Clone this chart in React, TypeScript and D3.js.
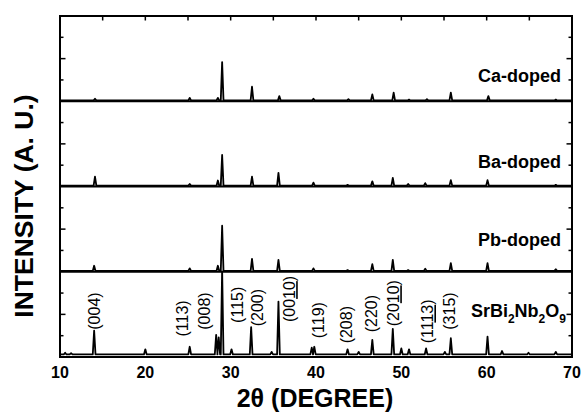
import React, { useEffect, useRef } from 'react';
import * as d3 from 'd3';

// sample names, top panel first
const samples = ['Ca-doped', 'Ba-doped', 'Pb-doped', 'SrBi2Nb2O9'];

// peaks as [2θ, intensity], intensity in % of a panel's height above its baseline
const caPeaks = [[14.1, 2], [25.2, 3], [28.5, 3], [29.0, 45], [32.5, 16], [35.7, 5], [39.7, 2], [43.8, 1.5], [46.6, 7], [49.1, 9], [50.9, 1], [53.0, 1.5], [55.8, 9], [60.2, 5], [68.1, 1]];
const baPeaks = [[14.1, 10.5], [25.2, 2], [28.5, 6], [29.0, 36], [32.5, 10.5], [35.6, 15], [39.7, 3.5], [43.7, 1], [46.6, 5], [49.0, 9], [50.8, 2], [52.8, 3], [55.8, 6.5], [60.1, 6.5], [68.1, 1]];
const pbPeaks = [[14.0, 6], [25.2, 3], [28.5, 6], [29.0, 53], [32.5, 14], [35.6, 13], [39.7, 3], [43.7, 1], [46.6, 8], [49.0, 13], [50.8, 1], [52.8, 2.5], [55.8, 9], [60.1, 9], [68.1, 2]];
const sbnPeaks = [[10.6, 2], [11.3, 1.5], [14.0, 28], [20.0, 6], [25.2, 9], [28.3, 23], [28.6, 20], [29.0, 100], [30.1, 6], [32.4, 32], [34.8, 3], [35.6, 62], [39.5, 8], [39.8, 9], [43.7, 6], [45.0, 3], [46.6, 17], [49.0, 30], [50.0, 7], [50.9, 6], [52.9, 7], [55.1, 3], [55.8, 19], [60.1, 21], [61.8, 4], [64.9, 2], [68.1, 3]];
const seriesPeaks = [caPeaks, baPeaks, pbPeaks, sbnPeaks];
const baselines = [1, 1, 1, 3];

// Miller index labels: [text, 2θ, intensity of the text start]; _xx_ marks an underlined part
const hklLabels: [string, number, number][] = [
  ['(004)', 14.0, 32], ['(113)', 24.4, 24], ['(008)', 26.9, 32], ['(115)', 30.8, 40],
  ['(200)', 33.1, 36], ['(00_10_)', 36.9, 41], ['(119)', 40.3, 22], ['(208)', 43.6, 16],
  ['(220)', 46.5, 29], ['(20_10_)', 49.1, 36], ['(11_13_)', 53.1, 16], ['(315)', 55.6, 32],
];

const xTicks = [10, 20, 30, 40, 50, 60, 70];
const xMinorTicks = [15, 20, 25, 30, 35, 40, 45, 50, 55, 60, 65];

const W = 581, H = 414;
const m = { left: 60, right: 9, top: 16, bottom: 57 };
const font = "'Liberation Sans', Arial, Helvetica, sans-serif";
const halfWidth = 0.16;

export default function App() {
  const ref = useRef<SVGSVGElement>(null);

  useEffect(() => {
    const svg = d3.select(ref.current);
    svg.selectAll('*').remove();

    const x0 = m.left, x1 = W - m.right, y0 = m.top, y1 = H - m.bottom;
    const x = d3.scaleLinear().domain([10, 70]).range([x0, x1]);
    const panelH = (y1 - y0) / samples.length;

    const clip = svg.append('defs');

    samples.forEach((name, i) => {
      const bottom = y0 + panelH * (i + 1);
      const top = bottom - panelH;
      const y = d3.scaleLinear().domain([0, 100]).range([bottom, top]);
      const base = baselines[i];

      clip.append('clipPath').attr('id', `clip${i}`)
        .append('rect').attr('x', x0).attr('y', top).attr('width', x1 - x0).attr('height', panelH);

      const pts: [number, number][] = [[10, base]];
      seriesPeaks[i].forEach(([p, h]) => {
        pts.push([p - halfWidth, base], [p, base + h], [p + halfWidth, base]);
      });
      pts.push([70, base]);

      svg.append('path')
        .attr('clip-path', `url(#clip${i})`)
        .attr('d', d3.line<[number, number]>().x(d => x(d[0])).y(d => y(d[1]))(pts))
        .attr('fill', 'none')
        .attr('stroke', '#000')
        .attr('stroke-width', 1.8)
        .attr('stroke-linejoin', 'round');

      // separator between panels
      if (i < samples.length - 1) {
        svg.append('line').attr('x1', x0).attr('x2', x1).attr('y1', bottom).attr('y2', bottom)
          .attr('stroke', '#000').attr('stroke-width', 2.2);
      }

      // y ticks, left and right, inward
      [0.25, 0.5, 0.75].forEach(f => {
        const ty = bottom - panelH * f;
        const len = f === 0.5 ? 5.5 : 3.5;
        svg.append('line').attr('x1', x0).attr('x2', x0 + len).attr('y1', ty).attr('y2', ty)
          .attr('stroke', '#000').attr('stroke-width', 1.5);
        svg.append('line').attr('x1', x1).attr('x2', x1 - len).attr('y1', ty).attr('y2', ty)
          .attr('stroke', '#000').attr('stroke-width', 1.5);
      });

      // sample label
      const lab = svg.append('text')
        .attr('x', 561)
        .attr('y', bottom - [19, 19, 26, 40][i])
        .attr('text-anchor', 'end')
        .style('font-family', font)
        .style('font-weight', 'bold')
        .style('font-size', '18px');
      if (name === 'SrBi2Nb2O9') {
        lab.attr('x', 566);
        [['SrBi', 0], ['2', 1], ['Nb', 0], ['2', 1], ['O', 0], ['9', 1]].forEach(([t, sub], k) => {
          lab.append('tspan').text(t as string)
            .attr('dy', sub ? 6 : (k === 0 ? 0 : -6))
            .style('font-size', sub ? '12px' : '18px');
        });
      } else {
        lab.text(name);
      }

      if (i === samples.length - 1) {
        hklLabels.forEach(([txt, p, v]) => {
          const t = svg.append('text')
            .attr('transform', `translate(${x(p)},${y(v)}) rotate(-90)`)
            .attr('dy', '0.35em')
            .style('font-family', font)
            .style('font-size', '16px');
          txt.split('_').forEach((part, k) => {
            if (!part) return;
            t.append('tspan').text(part).style('text-decoration', k % 2 ? 'underline' : 'none');
          });
        });
      }
    });

    // top ticks
    xMinorTicks.forEach(v => {
      svg.append('line').attr('x1', x(v)).attr('x2', x(v)).attr('y1', y0).attr('y2', y0 + 4.5)
        .attr('stroke', '#000').attr('stroke-width', 1.5);
    });

    // frame
    svg.append('rect').attr('x', x0).attr('y', y0).attr('width', x1 - x0).attr('height', y1 - y0)
      .attr('fill', 'none').attr('stroke', '#000').attr('stroke-width', 2);

    // x tick labels
    svg.append('g').selectAll('text').data(xTicks).enter().append('text')
      .attr('x', d => x(d)).attr('y', 378)
      .attr('text-anchor', 'middle')
      .style('font-family', font).style('font-weight', 'bold').style('font-size', '16px')
      .text(d => d);

    svg.append('text')
      .attr('x', 315).attr('y', 407)
      .attr('text-anchor', 'middle')
      .style('font-family', font).style('font-weight', 'bold').style('font-size', '25px')
      .text('2θ (DEGREE)');

    svg.append('text')
      .attr('transform', 'translate(33,206) rotate(-90)')
      .attr('text-anchor', 'middle')
      .style('font-family', font).style('font-weight', 'bold').style('font-size', '26.5px')
      .text('INTENSITY (A. U.)');
  }, []);

  return (
    <svg ref={ref} width={W} height={H} viewBox={`0 0 ${W} ${H}`}
      style={{ position: 'absolute', left: 0, top: 0, background: '#fff' }} />
  );
}
